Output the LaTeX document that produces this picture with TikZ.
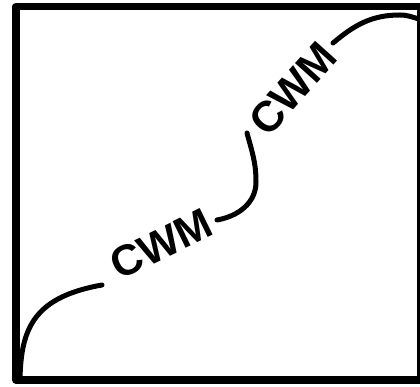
\documentclass[tikz,border=0pt]{standalone}
\usepackage{fontspec}
\setmainfont{Liberation Sans}
\usetikzlibrary{positioning,calc}

\begin{document}
\begin{tikzpicture}[x=1pt,y=1pt,line join=round,line cap=round]
      \useasboundingbox (0,0) rectangle (420,387);
      \tikzset{wire/.style={line width=5pt,black},
               tag/.style={inner sep=0pt,font=\fontsize{43}{43}\bfseries\selectfont}}
      \draw[line width=7.5pt,line cap=butt] (16,380.5) rectangle (421,7);
      \coordinate (S) at (20,8);
      \coordinate (P) at (102,102);
      \coordinate (Q) at (217,167);
      \coordinate (R) at (247,254);
      \coordinate (T) at (333,344);
      \coordinate (E) at (419,368);
      \node[tag,rotate=26] (low) at (161,143) {CWM};
      \node[tag,rotate=48] (high) at (293,298) {CWM};
      \draw[wire] (S) .. controls (21,60) and (35,90) .. (P);
      \draw[wire] (Q) to[out=10,in=-90] (256,205) to[out=90,in=-75] (R);
      \draw[wire] (T) to[out=40,in=180] (400,372) to[out=0,in=165] (E);
    \end{tikzpicture}
\end{document}
